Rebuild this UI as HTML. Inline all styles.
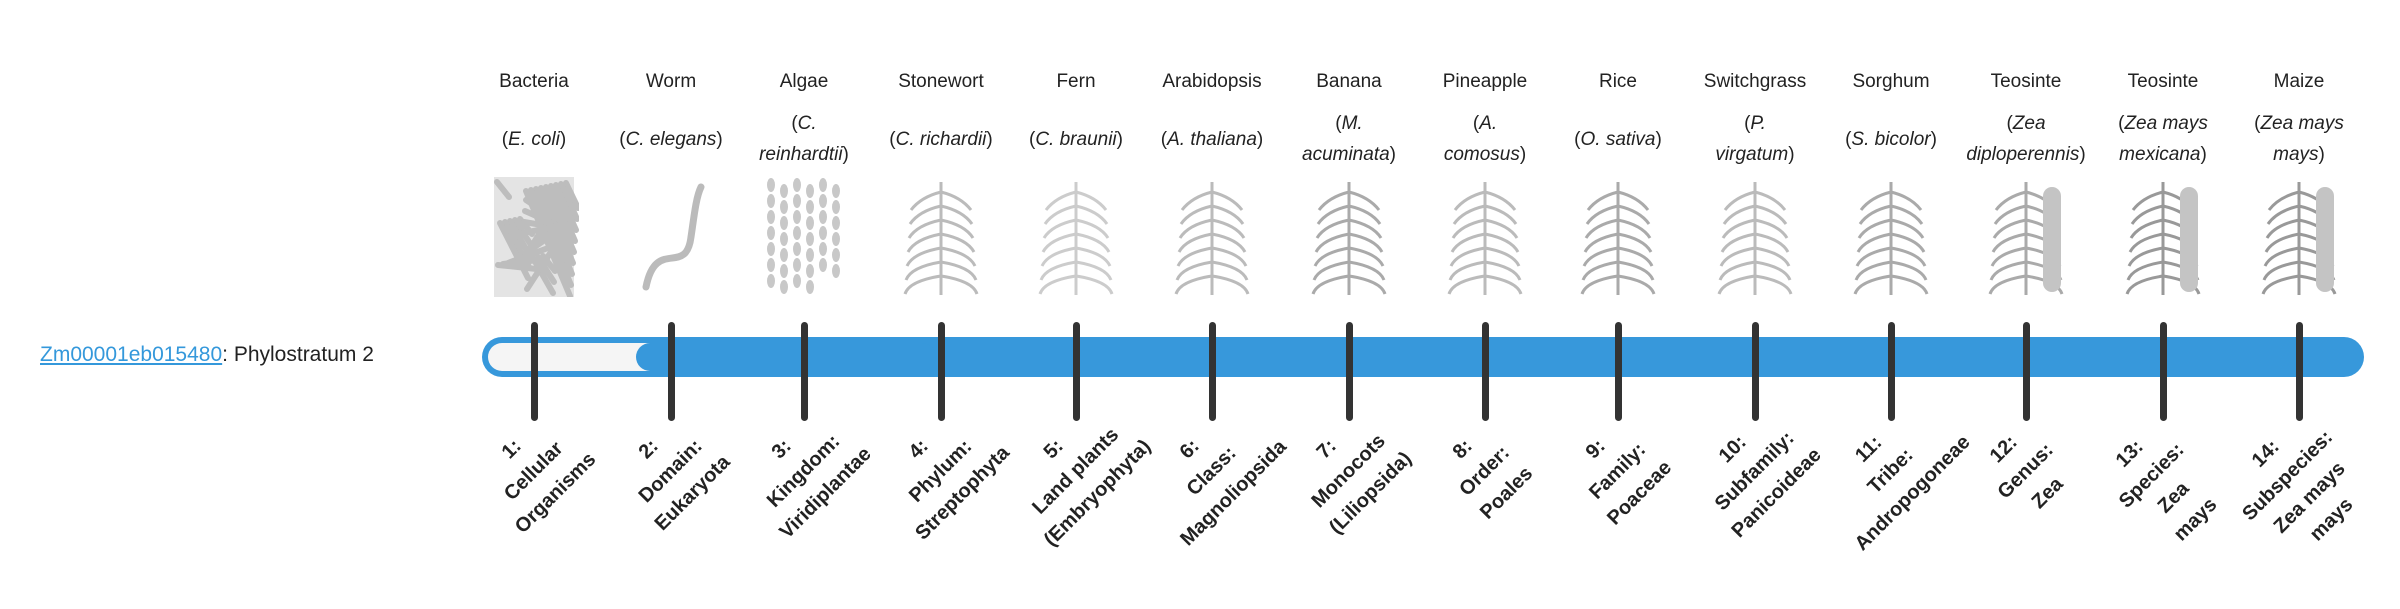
<!DOCTYPE html>
<html><head><meta charset="utf-8"><style>
html,body{margin:0;padding:0;background:#fff;width:2400px;height:580px;overflow:hidden;font-family:"Liberation Sans",sans-serif;color:#222}
.abs{position:absolute}
.name{position:absolute;top:68px;width:200px;margin-left:-100px;text-align:center;font-size:19px;line-height:28px;white-space:nowrap}
.sp{position:absolute;width:150px;margin-left:-75px;text-align:center;font-size:19px;line-height:31px}
.sp i{font-style:italic}
.tick{position:absolute;top:322px;width:7px;margin-left:-3.5px;height:99px;background:#333;border-radius:4px}
.lab{position:absolute;width:220px;margin-left:-110px;text-align:center;font-weight:bold;font-size:20px;line-height:31px;color:#222;transform:rotate(-45deg);transform-origin:50% 50%;white-space:nowrap}
.img{position:absolute;top:177px;width:90px;margin-left:-45px;height:120px}
</style></head><body>
<div class="abs" style="left:40px;top:340px;font-size:21px;line-height:30px;white-space:nowrap"><span style="color:#3498db;text-decoration:underline">Zm00001eb015480</span>: Phylostratum 2</div>
<div class="abs" style="left:482px;top:337px;width:1882px;height:40px;background:#3798db;border-radius:20px"></div>
<div class="abs" style="left:488px;top:343px;width:180px;height:28px;background:#f5f5f5;border-radius:14px"></div>
<div class="abs" style="left:636px;top:343px;width:300px;height:28px;background:#3798db;border-radius:14px"></div>
<div id="c"></div>
<script>
var xs=[534,671,804,941,1076,1212,1349,1485,1618,1755,1891,2026,2163,2299];
var names=["Bacteria","Worm","Algae","Stonewort","Fern","Arabidopsis","Banana","Pineapple","Rice","Switchgrass","Sorghum","Teosinte","Teosinte","Maize"];
var sp=[["E. coli"],["C. elegans"],["C.","reinhardtii"],["C. richardii"],["C. braunii"],["A. thaliana"],["M.","acuminata"],["A.","comosus"],["O. sativa"],["P.","virgatum"],["S. bicolor"],["Zea","diploperennis"],["Zea mays","mexicana"],["Zea mays","mays"]];
var labs=[["1:","Cellular","Organisms"],["2:","Domain:","Eukaryota"],["3:","Kingdom:","Viridiplantae"],["4:","Phylum:","Streptophyta"],["5:","Land plants","(Embryophyta)"],["6:","Class:","Magnoliopsida"],["7:","Monocots","(Liliopsida)"],["8:","Order:","Poales"],["9:","Family:","Poaceae"],["10:","Subfamily:","Panicoideae"],["11:","Tribe:","Andropogoneae"],["12:","Genus:","Zea"],["13:","Species:","Zea","mays"],["14:","Subspecies:","Zea mays","mays"]];
var h="";
for(var i=0;i<14;i++){
 var x=xs[i];
 h+='<div class="name" style="left:'+x+'px">'+names[i]+'</div>';
 var s=sp[i],tp=(s.length==1?124:108);
 var t;
 if(s.length==1)t='(<i>'+s[0]+'</i>)';else t='(<i>'+s[0]+'</i><br><i>'+s[1]+'</i>)';
 h+='<div class="sp" style="left:'+x+'px;top:'+tp+'px">'+t+'</div>';
 var g='';
 if(i==0){g='<rect x="5" y="0" width="80" height="120" fill="#e4e4e4"/>';for(var k=0;k<30;k++){g+='<line x1="'+(8+(k*23)%74)+'" y1="'+(5+(k*37)%110)+'" x2="'+(20+(k*23)%70)+'" y2="'+(20+(k*37)%100)+'" stroke="#bdbdbd" stroke-width="6" stroke-linecap="round"/>';}}
 else if(i==1){g='<path d="M20 110 C30 60 60 100 65 60 C68 40 70 20 75 10" stroke="#bbb" stroke-width="7" fill="none" stroke-linecap="round"/>';}
 else if(i==2){for(var k=0;k<40;k++){g+='<ellipse cx="'+(12+(k%6)*13)+'" cy="'+(8+Math.floor(k/6)*16+(k%2)*6)+'" rx="4" ry="7" fill="#c8c8c8"/>';}}
 else{var c=["#ccc","#bbb","#ccc","#bbb","#aaa","#bbb","#aaa","#bbb","#aaa","#aaa","#999","#999"][i-2];
  g='<line x1="45" y1="5" x2="45" y2="118" stroke="'+c+'" stroke-width="3"/>';
  for(var k=0;k<7;k++){var y=15+k*14;g+='<path d="M45 '+y+' Q'+(25-k*2)+' '+(y+5)+' '+(15-k)+' '+(y+18)+'" stroke="'+c+'" stroke-width="3" fill="none"/><path d="M45 '+y+' Q'+(65+k*2)+' '+(y+5)+' '+(75+k)+' '+(y+18)+'" stroke="'+c+'" stroke-width="3" fill="none"/>';}
  if(i>=11){g+='<rect x="62" y="10" width="18" height="105" rx="9" fill="#c4c4c4"/>';}
 }
 h+='<svg class="img" style="left:'+x+'px" viewBox="0 0 90 120">'+g+'</svg>';
 h+='<div class="tick" style="left:'+x+'px"></div>';
 var L=labs[i],hh=L.length*31;
 h+='<div class="lab" style="left:'+x+'px;top:425px;height:'+hh+'px">'+L.join('<br>')+'</div>';
}
document.getElementById('c').innerHTML=h;
</script>
</body></html>
